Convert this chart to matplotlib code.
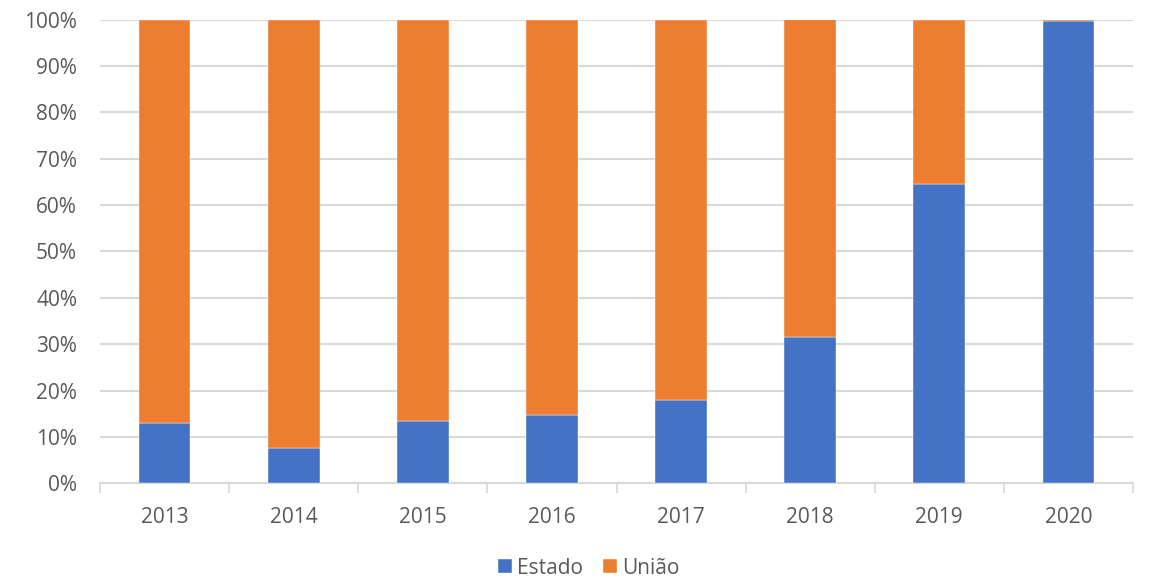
import matplotlib
matplotlib.use("Agg")
import matplotlib.pyplot as plt
from matplotlib.ticker import FuncFormatter, FixedLocator
import numpy as np

years = ["2013", "2014", "2015", "2016", "2017", "2018", "2019", "2020"]
estado = [12.9, 7.6, 13.4, 14.7, 18.0, 31.6, 64.5, 99.6]
uniao = [100 - v for v in estado]

plt.rcParams['font.family'] = ['Open Sans', 'DejaVu Sans']
text_color = "#595959"
fs = 15

fig = plt.figure(figsize=(11.5, 5.83), dpi=100)
ax = fig.add_axes([100/1150, 1 - 483.3/583, (1133-100)/1150, (483.3-19.5)/583])

x = np.arange(len(years))
w = 0.40
ax.bar(x, estado, w, color="#4472C4", label="Estado", zorder=3, edgecolor="white", linewidth=0.3)
ax.bar(x, uniao, w, bottom=estado, color="#ED7D31", label="União", zorder=3, edgecolor="white", linewidth=0.3)

ax.set_xlim(-0.5, len(years) - 0.5)
ax.set_ylim(0, 100)
ax.set_yticks(np.arange(0, 101, 10))
ax.yaxis.set_major_formatter(FuncFormatter(lambda v, p: f"{int(v)}%"))
ax.grid(axis="y", color="#d9d9d9", linewidth=1.5, zorder=0)
ax.set_axisbelow(True)

ax.set_xticks(x)
ax.set_xticklabels(years)
ax.xaxis.set_minor_locator(FixedLocator(np.arange(-0.5, len(years), 1)))
ax.tick_params(axis="x", which="major", length=0, pad=17, labelsize=fs, labelcolor=text_color)
ax.tick_params(axis="x", which="minor", length=7, width=1.2, color="#d9d9d9")
ax.tick_params(axis="y", length=0, pad=16.5, labelsize=fs, labelcolor=text_color)

for s in ["top", "right", "left"]:
    ax.spines[s].set_visible(False)
ax.spines["bottom"].set_color("#d9d9d9")
ax.spines["bottom"].set_linewidth(1.5)

leg = fig.legend(loc="center", bbox_to_anchor=(589/1150, 1 - 568/583), ncol=2, frameon=False,
                 fontsize=fs, handlelength=0.67, handleheight=0.67, handletextpad=0.25,
                 columnspacing=0.95)
for t in leg.get_texts():
    t.set_color(text_color)

fig.savefig("out.png", dpi=100)
